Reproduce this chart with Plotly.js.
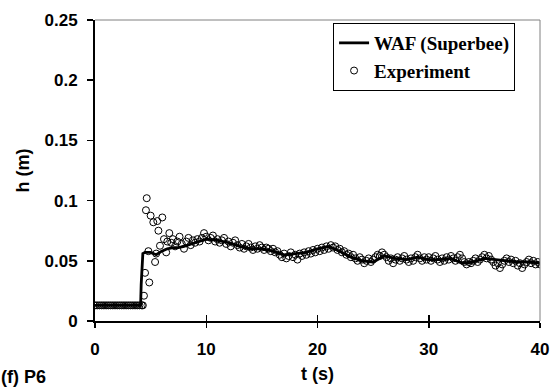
<!DOCTYPE html>
<html><head><meta charset="utf-8">
<script src="https://cdn.plot.ly/plotly-3.0.1.min.js"></script>
<style>body{margin:0;padding:0;background:#fff}</style>
</head><body>
<div id="chart" style="width:553px;height:388px"></div>
<script>
// WAF (Superbee) simulation
const simT = [0, 4.1, 4.15, 4.2, 4.3, 4.5, 5.0, 5.5, 6.0, 6.5, 7, 7.5, 8, 9, 10, 11, 12, 13, 14, 15, 16, 17, 18, 19, 20, 21, 22, 23, 24, 25, 26, 27, 28, 29, 30, 31, 32, 33, 34, 35, 36, 37, 38, 39, 40];
const simH = [0.013, 0.013, 0.030, 0.045, 0.056, 0.057, 0.057, 0.055, 0.058, 0.060, 0.061, 0.061, 0.062, 0.065, 0.068, 0.067, 0.065, 0.062, 0.060, 0.060, 0.058, 0.055, 0.056, 0.057, 0.060, 0.062, 0.058, 0.053, 0.050, 0.049, 0.054, 0.052, 0.051, 0.053, 0.051, 0.051, 0.052, 0.048, 0.049, 0.052, 0.051, 0.050, 0.049, 0.049, 0.048];

// Experiment
const expT = [0, 0.2, 0.4, 0.6, 0.8, 1.0, 1.2, 1.4, 1.6, 1.8, 2.0, 2.2, 2.4, 2.6, 2.8, 3.0, 3.2, 3.4, 3.6, 3.8, 4.0, 4.2,
  4.3, 4.4, 4.5, 4.58, 4.65, 4.8, 4.88, 5.0, 5.24, 5.4, 5.5, 5.6, 5.7, 5.84, 6.05, 6.2, 6.4, 6.5, 6.68, 6.85,
  7.0, 7.2, 7.4, 7.6, 7.8, 8.0, 8.2, 8.4, 8.6, 8.8, 9.0, 9.2, 9.4, 9.6, 9.8, 10.0, 10.2, 10.4, 10.6, 10.8,
  11.0, 11.2, 11.4, 11.6, 11.8, 12.0, 12.2, 12.4, 12.6, 12.8, 13.0, 13.2, 13.4, 13.6, 13.8, 14.0, 14.2, 14.4, 14.6, 14.8,
  15.0, 15.2, 15.4, 15.6, 15.8, 16.0, 16.2, 16.4, 16.6, 16.8, 17.0, 17.2, 17.4, 17.6, 17.8, 18.0, 18.2, 18.4, 18.6, 18.8,
  19.0, 19.2, 19.4, 19.6, 19.8, 20.0, 20.2, 20.4, 20.6, 20.8, 21.0, 21.2, 21.4, 21.6, 21.8, 22.0, 22.2, 22.4, 22.6, 22.8,
  23.0, 23.2, 23.4, 23.6, 23.8, 24.0, 24.2, 24.4, 24.6, 24.8, 25.0, 25.2, 25.4, 25.6, 25.8, 26.0, 26.2, 26.4, 26.6, 26.8,
  27.0, 27.2, 27.4, 27.6, 27.8, 28.0, 28.2, 28.4, 28.6, 28.8, 29.0, 29.2, 29.4, 29.6, 29.8, 30.0, 30.2, 30.4, 30.6, 30.8,
  31.0, 31.2, 31.4, 31.6, 31.8, 32.0, 32.2, 32.4, 32.6, 32.8, 33.0, 33.2, 33.4, 33.6, 33.8, 34.0, 34.2, 34.4, 34.6, 34.8,
  35.0, 35.2, 35.4, 35.6, 35.8, 36.0, 36.2, 36.4, 36.6, 36.8, 37.0, 37.2, 37.4, 37.6, 37.8, 38.0, 38.2, 38.4, 38.6, 38.8,
  39.0, 39.2, 39.4, 39.6, 39.8, 40.0];
const expH = [0.013, 0.013, 0.013, 0.013, 0.013, 0.013, 0.013, 0.013, 0.013, 0.013, 0.013, 0.013, 0.013, 0.013, 0.013, 0.013, 0.013, 0.013, 0.013, 0.013, 0.013, 0.013,
  0.013, 0.021, 0.040, 0.092, 0.102, 0.058, 0.032, 0.0875, 0.082, 0.049, 0.056, 0.083, 0.075, 0.0625, 0.086, 0.068, 0.057, 0.066, 0.073, 0.065,
  0.068, 0.062, 0.066, 0.070, 0.064, 0.060, 0.066, 0.069, 0.063, 0.067, 0.065, 0.068, 0.066, 0.069, 0.073, 0.070, 0.067, 0.069, 0.071, 0.066,
  0.068, 0.065, 0.067, 0.069, 0.064, 0.066, 0.062, 0.065, 0.067, 0.063, 0.061, 0.064, 0.060, 0.062, 0.064, 0.061, 0.059, 0.062, 0.060, 0.063,
  0.061, 0.059, 0.061, 0.060, 0.058, 0.060, 0.057, 0.058, 0.055, 0.053, 0.056, 0.052, 0.054, 0.057, 0.053, 0.055, 0.051, 0.056, 0.054, 0.057,
  0.055, 0.058, 0.056, 0.059, 0.057, 0.060, 0.058, 0.061, 0.059, 0.062, 0.060, 0.063, 0.061, 0.062, 0.059, 0.060, 0.057, 0.058, 0.055, 0.056,
  0.053, 0.055, 0.052, 0.050, 0.053, 0.051, 0.048, 0.050, 0.052, 0.049, 0.051, 0.053, 0.055, 0.054, 0.057, 0.055, 0.053, 0.050, 0.052, 0.048,
  0.051, 0.053, 0.050, 0.052, 0.054, 0.051, 0.049, 0.052, 0.050, 0.053, 0.055, 0.052, 0.050, 0.053, 0.051, 0.053, 0.050, 0.052, 0.054, 0.051,
  0.049, 0.052, 0.050, 0.053, 0.051, 0.054, 0.052, 0.050, 0.053, 0.055, 0.052, 0.049, 0.047, 0.049, 0.048, 0.050, 0.052, 0.049, 0.051, 0.053,
  0.055, 0.052, 0.054, 0.051, 0.049, 0.046, 0.048, 0.044, 0.047, 0.050, 0.052, 0.049, 0.051, 0.048, 0.050, 0.046, 0.048, 0.044, 0.047, 0.049,
  0.051, 0.048, 0.050, 0.047, 0.049, 0.047];

const xTicks = [0, 10, 20, 30, 40];
const yTicks = [0, 0.05, 0.1, 0.15, 0.2, 0.25];
const yTickText = ['0', '0.05', '0.1', '0.15', '0.2', '0.25'];

const tickFont = {family: 'Liberation Sans, Arial, sans-serif', size: 17, color: '#000', weight: 'bold'};
const titleFont = {family: 'Liberation Sans, Arial, sans-serif', size: 18, color: '#000', weight: 'bold'};

const traces = [
  {x: expT, y: expH, type: 'scatter', mode: 'markers', name: 'Experiment',
   marker: {symbol: 'circle-open', size: 7, color: '#000', line: {width: 1, color: '#000'}}},
  {x: simT, y: simH, type: 'scatter', mode: 'lines', name: 'WAF (Superbee)',
   line: {color: '#000', width: 2.8}},
  {x: [0], y: [0], xaxis: 'x2', type: 'scatter', mode: 'markers', showlegend: false,
   marker: {opacity: 0}, hoverinfo: 'skip'}
];

const layout = {
  width: 553, height: 388,
  margin: {l: 95, r: 13, t: 20, b: 67},
  paper_bgcolor: '#fff', plot_bgcolor: '#fff',
  showlegend: true,
  legend: {x: 0.535, y: 0.99, xanchor: 'left', yanchor: 'top', traceorder: 'reversed',
    bgcolor: '#fff', bordercolor: '#000', borderwidth: 1,
    font: {family: 'Liberation Serif, Times New Roman, serif', size: 19, color: '#000', weight: 'bold'},
    tracegroupgap: 0},
  xaxis: {range: [0, 40], tickvals: xTicks, ticktext: xTicks.map(String), ticks: 'outside', ticklen: 5, tickwidth: 1.5,
    tickcolor: '#000', showline: true, linecolor: '#000', linewidth: 2, showgrid: false, zeroline: false,
    tickfont: tickFont, ticklabelstandoff: 7,
    title: {text: 't (s)', font: titleFont, standoff: 9}},
  xaxis2: {overlaying: 'x', matches: 'x', range: [0, 40], tickvals: xTicks, ticks: 'inside', ticklen: 6, tickwidth: 1.5,
    tickcolor: '#000', showticklabels: false, showline: false, showgrid: false, zeroline: false, side: 'bottom'},
  yaxis: {range: [0, 0.25], tickvals: yTicks, ticktext: yTickText, ticks: 'outside', ticklen: 6, tickwidth: 1.5,
    tickcolor: '#000', showline: true, linecolor: '#000', linewidth: 2, showgrid: false, zeroline: false,
    tickfont: tickFont, ticklabelstandoff: 6,
    title: {text: 'h (m)', font: titleFont, standoff: 10}},
  shapes: [
    {type: 'line', xref: 'paper', yref: 'paper', x0: 0, x1: 1, y0: 1, y1: 1, line: {color: '#808080', width: 1}},
    {type: 'line', xref: 'paper', yref: 'paper', x0: 1, x1: 1, y0: 0, y1: 1, line: {color: '#808080', width: 1}}
  ],
  annotations: [
    {text: '(f) P6', xref: 'paper', yref: 'paper', x: -0.215, y: -0.185, xanchor: 'left', yanchor: 'middle',
     showarrow: false, font: titleFont}
  ]
};

Plotly.newPlot('chart', traces, layout, {displayModeBar: false, staticPlot: true});
</script>
</body></html>
